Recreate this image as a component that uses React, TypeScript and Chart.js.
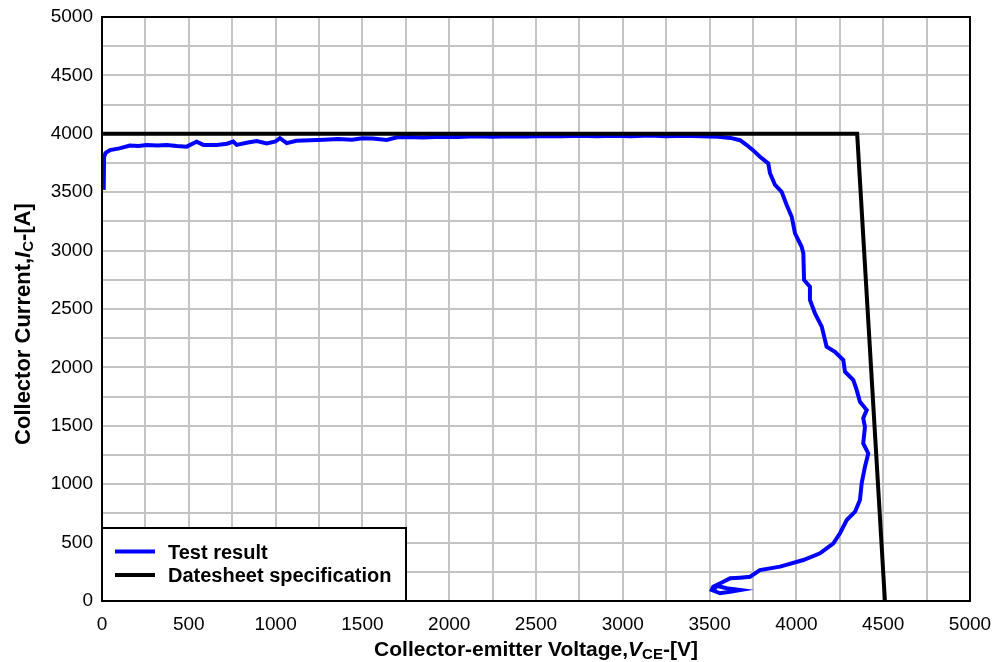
import React, { useEffect, useRef } from "react";
import { Chart, registerables } from "chart.js";

Chart.register(...registerables);

// Measured test result: [V_CE (V), I_C (A)]
const testResult: [number, number][] = [
  [10, 3520], [12, 3800], [20, 3835], [46, 3860], [100, 3875], [161, 3900], [210, 3895],
  [257, 3905], [320, 3900], [373, 3905], [430, 3895], [488, 3890], [545, 3932], [584, 3905],
  [661, 3905], [720, 3915], [756, 3933], [776, 3905], [840, 3925], [891, 3938], [949, 3918],
  [1000, 3935], [1025, 3962], [1064, 3920], [1120, 3940], [1200, 3945], [1280, 3950],
  [1360, 3955], [1440, 3950], [1500, 3962], [1560, 3960], [1640, 3948], [1700, 3970],
  [1760, 3972], [1850, 3968], [1950, 3975], [2050, 3972], [2150, 3978], [2250, 3975],
  [2350, 3980], [2450, 3976], [2550, 3982], [2650, 3978], [2750, 3983], [2850, 3980],
  [2950, 3984], [3050, 3980], [3150, 3985], [3250, 3978], [3350, 3983], [3450, 3980],
  [3550, 3975], [3620, 3965], [3675, 3945], [3714, 3904], [3750, 3860], [3790, 3804],
  [3838, 3747], [3848, 3662], [3877, 3562], [3915, 3504], [3944, 3390], [3973, 3290],
  [3992, 3148], [4030, 3033], [4040, 2977], [4044, 2748], [4078, 2691], [4078, 2577],
  [4107, 2463], [4146, 2349], [4174, 2177], [4222, 2134], [4270, 2063], [4280, 1963],
  [4328, 1892], [4347, 1807], [4366, 1706], [4405, 1635], [4385, 1564], [4395, 1492],
  [4385, 1350], [4414, 1264], [4395, 1150], [4376, 1008], [4366, 865], [4338, 765],
  [4290, 693], [4251, 580], [4213, 494], [4136, 408], [4040, 351], [3906, 294], [3790, 265],
  [3733, 208], [3675, 200], [3618, 194], [3579, 165], [3521, 122], [3512, 94], [3560, 66],
  [3618, 80], [3675, 94], [3598, 109], [3540, 130], [3520, 80],
];

// Datasheet specification (RBSOA boundary)
const datasheetSpec: [number, number][] = [
  [0, 4000], [4350, 4000], [4510, 0],
];

const seriesLabels = ["Test result", "Datesheet specification"];
const seriesColors = ["#0000ff", "#000000"];

const axisMin = 0;
const axisMax = 5000;
const gridStep = 250;
const labelStep = 500;

const FONT = "'Liberation Sans', Arial, sans-serif";

function drawRich(ctx: CanvasRenderingContext2D, parts: { t: string; f: string; dy?: number }[], cx: number, cy: number) {
  let total = 0;
  for (const p of parts) {
    ctx.font = p.f;
    total += ctx.measureText(p.t).width;
  }
  let x = cx - total / 2;
  for (const p of parts) {
    ctx.font = p.f;
    ctx.fillText(p.t, x, cy + (p.dy || 0));
    x += ctx.measureText(p.t).width;
  }
}

const decorPlugin = {
  id: "decor",
  afterDraw(chart: any) {
    const { ctx, chartArea: a } = chart;
    ctx.save();
    // plot border
    ctx.strokeStyle = "#000";
    ctx.lineWidth = 2;
    ctx.strokeRect(a.left, a.top, a.right - a.left, a.bottom - a.top);

    // legend box
    const lx = a.left, ly = 528, lw = 304, lh = a.bottom - 528;
    ctx.fillStyle = "#fff";
    ctx.fillRect(lx, ly, lw, lh);
    ctx.strokeStyle = "#000";
    ctx.lineWidth = 2;
    ctx.strokeRect(lx, ly, lw, lh);
    const rows = [551.5, 575];
    ctx.textBaseline = "alphabetic";
    ctx.textAlign = "left";
    chart.data.datasets
      .map((d: any) => d)
      .sort((p: any, q: any) => seriesLabels.indexOf(p.label) - seriesLabels.indexOf(q.label))
      .forEach((d: any, i: number) => {
        ctx.strokeStyle = d.borderColor;
        ctx.lineWidth = 4;
        ctx.beginPath();
        ctx.moveTo(lx + 13, rows[i]);
        ctx.lineTo(lx + 53, rows[i]);
        ctx.stroke();
        ctx.fillStyle = "#000";
        ctx.font = `bold 20px ${FONT}`;
        ctx.fillText(d.label, lx + 66, rows[i] + 7);
      });

    // axis titles
    ctx.fillStyle = "#000";
    const b = `bold 21px ${FONT}`;
    const bi = `italic bold 21px ${FONT}`;
    const bs = `bold 15px ${FONT}`;
    drawRich(
      ctx,
      [
        { t: "Collector-emitter Voltage,", f: b },
        { t: "V", f: bi },
        { t: "CE", f: bs, dy: 3 },
        { t: "-[V]", f: b },
      ],
      536,
      656
    );
    ctx.save();
    ctx.translate(30, 324);
    ctx.rotate(-Math.PI / 2);
    const b2 = `bold 22px ${FONT}`;
    const bi2 = `italic bold 22px ${FONT}`;
    const bs2 = `bold 15px ${FONT}`;
    drawRich(
      ctx,
      [
        { t: "Collector Current,", f: b2 },
        { t: "I", f: bi2 },
        { t: "C", f: bs2, dy: 3 },
        { t: "-[A]", f: b2 },
      ],
      0,
      0
    );
    ctx.restore();
    ctx.restore();
  },
};

export default function App() {
  const ref = useRef<HTMLCanvasElement | null>(null);
  useEffect(() => {
    document.body.style.margin = "0";
    if (!ref.current) return;
    const tickCb = (v: any) => (Number(v) % labelStep === 0 ? String(v) : "");
    const chart = new Chart(ref.current, {
      type: "scatter",
      data: {
        datasets: [
          {
            label: seriesLabels[0],
            data: testResult.map(([x, y]) => ({ x, y })),
            showLine: true,
            borderColor: seriesColors[0],
            backgroundColor: seriesColors[0],
            borderWidth: 4,
            pointRadius: 0,
            order: 1,
          },
          {
            label: seriesLabels[1],
            data: datasheetSpec.map(([x, y]) => ({ x, y })),
            showLine: true,
            borderColor: seriesColors[1],
            backgroundColor: seriesColors[1],
            borderWidth: 4,
            pointRadius: 0,
            order: 0,
          },
        ],
      },
      options: {
        responsive: false,
        animation: false,
        layout: { padding: { top: 17, right: 25, left: 0, bottom: 0 } },
        plugins: { legend: { display: false }, tooltip: { enabled: false } },
        scales: {
          x: {
            type: "linear",
            min: axisMin,
            max: axisMax,
            afterFit: (s: any) => {
              s.height = 61;
              s.paddingLeft = 0;
              s.paddingRight = 0;
            },
            ticks: {
              stepSize: gridStep,
              autoSkip: false,
              maxRotation: 0,
              callback: tickCb,
              color: "#000",
              font: { family: FONT, size: 19 },
              padding: 12,
            },
            grid: { color: "#c4c4c4", lineWidth: 2, drawTicks: false },
            border: { display: false },
          },
          y: {
            type: "linear",
            min: axisMin,
            max: axisMax,
            afterFit: (s: any) => {
              s.width = 102;
              s.paddingTop = 0;
              s.paddingBottom = 0;
            },
            ticks: {
              stepSize: gridStep,
              autoSkip: false,
              callback: tickCb,
              color: "#000",
              font: { family: FONT, size: 19 },
              padding: 9,
            },
            grid: { color: "#c4c4c4", lineWidth: 2, drawTicks: false },
            border: { display: false },
          },
        },
      },
      plugins: [decorPlugin],
    });
    return () => chart.destroy();
  }, []);
  return <canvas ref={ref} width={995} height={662} style={{ display: "block" }} />;
}
